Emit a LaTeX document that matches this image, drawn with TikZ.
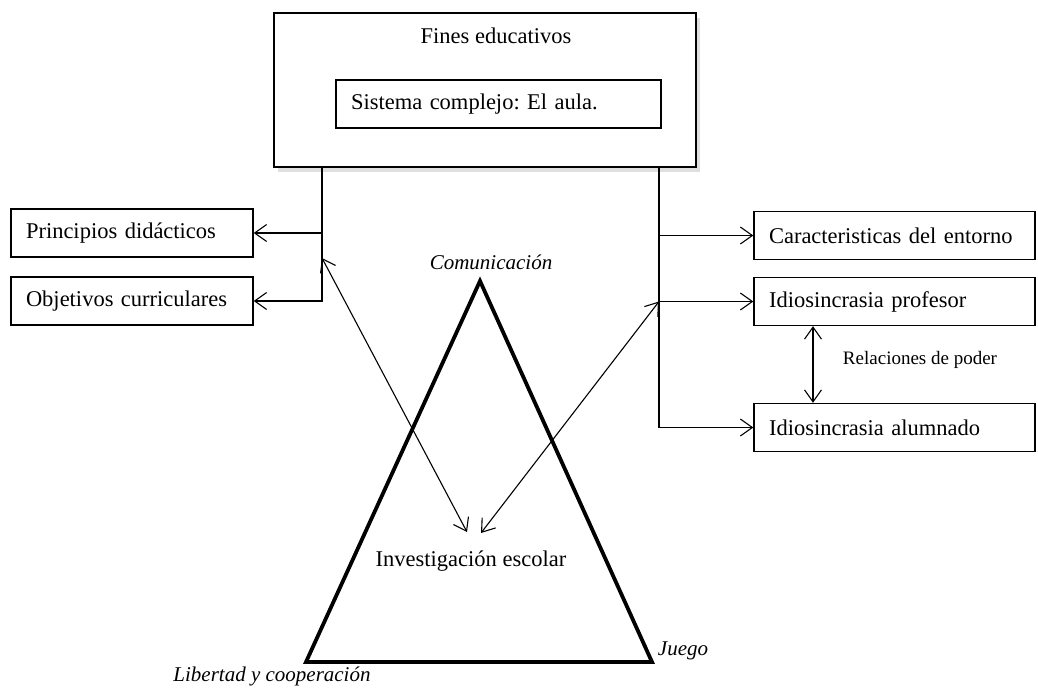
\documentclass[tikz,border=0pt]{standalone}
\usepackage{fontspec}
\setmainfont{Liberation Serif}
\usetikzlibrary{arrows.meta,shadows}

\tikzset{
    outer node/.style={draw,line width=1.8pt,fill=white,minimum width=422pt,minimum height=154pt,
        drop shadow={shadow xshift=4pt,shadow yshift=-5pt,opacity=0.25}},
    box node/.style={draw,line width=1.4pt,fill=white,minimum height=48pt,inner xsep=15pt,
        align=left,font=\fontsize{22.5}{26}\selectfont},
    text node/.style={font=\fontsize{22.5}{26}\selectfont},
    small node/.style={font=\fontsize{19}{22}\selectfont},
    corner node/.style={font=\fontsize{21}{24}\selectfont\itshape},
    bold/.style={line width=3.8pt,line join=miter},
    link/.style={line width=1.1pt}
    }

\begin{document}
\begin{tikzpicture}[x=1pt,y=-1pt,>={Straight Barb[length=12pt,width=17pt]}]
                \useasboundingbox (0,0) rectangle (1038,688);
                % top
                \node(fines)[outer node] at (485,90) {};
                \node(finestxt)[text node] at (496,36) {Fines educativos};
                \node(aula)[box node,text width=295pt] at (498.5,104) {Sistema complejo:\ El aula.};
                % left side
                \node(principios)[box node,text width=212pt] at (132,233) {Principios\ didácticos};
                \node(objetivos)[box node,text width=212pt] at (132,301) {Objetivos curriculares};
                % right side
                \node(entorno)[box node,text width=251pt] at (894.5,235.5) {Caracteristicas\ del entorno};
                \node(profesor)[box node,text width=251pt] at (894.5,301.5) {Idiosincrasia profesor};
                \node(alumnado)[box node,text width=251pt] at (894.5,427.5) {Idiosincrasia alumnado};
                \node(poder)[small node] at (920,360) {Relaciones de poder};
                % triangle
                \coordinate(apex) at (480,281);
                \coordinate(base left) at (306,662);
                \coordinate(base right) at (652,662);
                \draw[bold] (apex) -- (base left) -- (base right) -- cycle;
                \node(comunicacion)[corner node] at (491,262) {Comunicación};
                \node(libertad)[corner node] at (272,676) {Libertad y cooperación};
                \node(juego)[corner node] at (683,651) {Juego};
                \node(investigacion)[text node] at (471,561) {Investigación escolar};
                % connectors
                \coordinate(split left) at (322,0);
                \coordinate(split right) at (659,0);
                \coordinate(hit left) at (322,258);
                \coordinate(inv left) at (467,532);
                \coordinate(inv right) at (481,533);
                \draw[link,->] (split left |- fines.south) |- (objetivos.east);
                \draw[link,->] (split left |- principios.east) -- (principios.east);
                \draw[link,->] (split right |- fines.south) |- (alumnado.west);
                \draw[link,->] (split right |- entorno.west) -- (entorno.west);
                \draw[link,->] (split right |- profesor.west) -- (profesor.west);
                \draw[link,<->] (hit left) -- (inv left);
                \draw[link,<->] (split right |- profesor.west) -- (inv right);
                \draw[link,<->] (profesor.south -| 813,0) -- (alumnado.north -| 813,0);
\end{tikzpicture}
\end{document}
